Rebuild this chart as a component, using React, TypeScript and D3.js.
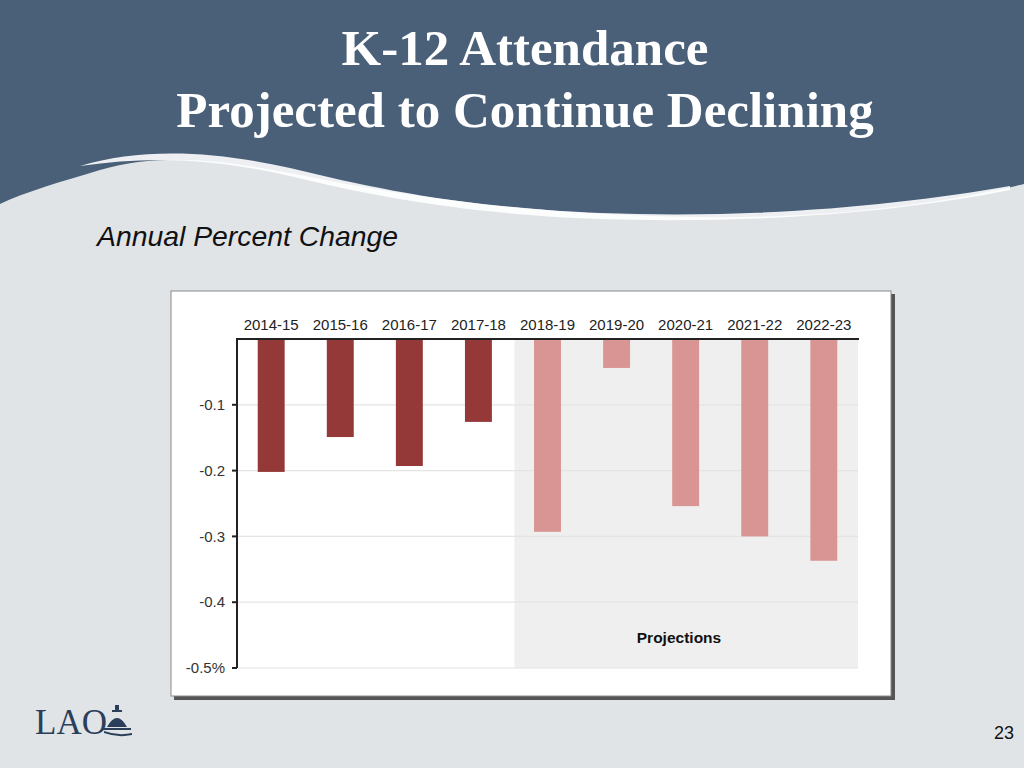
import React from "react";
import * as d3 from "d3";

const categories = ["2014-15", "2015-16", "2016-17", "2017-18", "2018-19", "2019-20", "2020-21", "2021-22", "2022-23"];
const values = [-0.202, -0.149, -0.193, -0.126, -0.293, -0.044, -0.254, -0.30, -0.337];
const projected = [false, false, false, false, true, true, true, true, true];
const yTicks = [0, -0.1, -0.2, -0.3, -0.4, -0.5];
const yTickLabels = ["", "-0.1", "-0.2", "-0.3", "-0.4", "-0.5%"];

export default function App() {
  const W = 1024, H = 768;
  const x = d3.scaleBand<string>().domain(categories).range([237, 858]).paddingInner(0.61).paddingOuter(0.3);
  const y = d3.scaleLinear().domain([0, -0.5]).range([339, 668]);
  const projStart = categories[4];
  const projX0 = (x(projStart) as number) - (x.step() * x.paddingInner()) / 2 + 1.5;
  const sans = "'Liberation Sans', Arial, Helvetica, sans-serif";
  const serif = "'Liberation Serif', 'Times New Roman', serif";

  return (
    <svg width={W} height={H} style={{ position: "absolute", left: 0, top: 0 }} xmlns="http://www.w3.org/2000/svg">
      <rect x={0} y={0} width={W} height={H} fill="#e1e4e7" />
      {/* header */}
      <path d="M0,0 H1024 V184 C930,206 820,219 690,217 C560,215 430,201 320,179 C240,163 170,150 100,170 C60,182 25,192 0,204 Z" fill="#4a6079" />
      <path d="M80,166 C140,148 210,150 290,168 C380,190 470,208 600,213 C760,219 900,205 1010,186 L1010,190 C900,212 760,224 600,219 C470,214 380,198 290,176 C210,158 150,156 80,166 Z" fill="#ffffff" opacity={0.9} />
      <text x={525} y={65} textAnchor="middle" fill="#fff" fontFamily={serif} fontWeight="bold" fontSize={51}>K-12 Attendance</text>
      <text x={525} y={127} textAnchor="middle" fill="#fff" fontFamily={serif} fontWeight="bold" fontSize={51}>Projected to Continue Declining</text>
      <text x={97} y={246} fill="#111" fontFamily={sans} fontStyle="italic" fontSize={28} textLength={301} lengthAdjust="spacingAndGlyphs">Annual Percent Change</text>

      {/* chart box */}
      <rect x={174} y={294} width={721} height={406} fill="#555" />
      <rect x={171} y={291} width={720} height={405} fill="#fff" stroke="#8a8a8a" strokeWidth={1} />

      {/* projection shade */}
      <rect x={projX0} y={y(0)} width={858 - projX0} height={y(-0.5) - y(0)} fill="#efefef" />

      {/* gridlines */}
      {yTicks.slice(1).map((t) => (
        <line key={t} x1={237} x2={858} y1={y(t)} y2={y(t)} stroke="#e4e4e4" strokeWidth={1.2} />
      ))}

      {/* bars */}
      {categories.map((c, i) => (
        <rect key={c} x={x(c)} y={y(0)} width={x.bandwidth()} height={y(values[i]) - y(0)} fill={projected[i] ? "#d99593" : "#943838"} />
      ))}

      {/* axes */}
      <line x1={237} x2={237} y1={y(0)} y2={y(-0.5)} stroke="#222" strokeWidth={2} />
      <line x1={236} x2={859} y1={y(0)} y2={y(0)} stroke="#222" strokeWidth={2} />
      {yTicks.slice(1).map((t, i) => (
        <g key={t}>
          <line x1={232} x2={237} y1={y(t)} y2={y(t)} stroke="#222" strokeWidth={2} />
          <text x={225} y={y(t)} dy="0.35em" textAnchor="end" fontFamily={sans} fontSize={15} fill="#333">{yTickLabels[i + 1]}</text>
        </g>
      ))}
      {categories.map((c) => (
        <text key={c} x={(x(c) as number) + x.bandwidth() / 2} y={330} textAnchor="middle" fontFamily={sans} fontSize={15} fill="#222">{c}</text>
      ))}
      <text x={679} y={643} textAnchor="middle" fontFamily={sans} fontWeight="bold" fontSize={15.5} fill="#111">Projections</text>

      {/* LAO logo */}
      <text x={35} y={734} fontFamily={serif} fontSize={35} fill="#2b3e5a">LAO</text>
      <g fill="#2b3e5a">
        <path d="M107,727 Q117,709 127,727 Z" />
        <rect x={115} y={705} width={4} height={5} />
        <rect x={112} y={710} width={10} height={2} />
        <path d="M103,728 H131 V730 H103 Z" />
        <path d="M104,731 Q118,736 132,733 L132,735 Q118,738 104,733 Z" />
      </g>
      <text x={1004} y={739} textAnchor="middle" fontFamily={sans} fontSize={18} fill="#111">23</text>
    </svg>
  );
}
